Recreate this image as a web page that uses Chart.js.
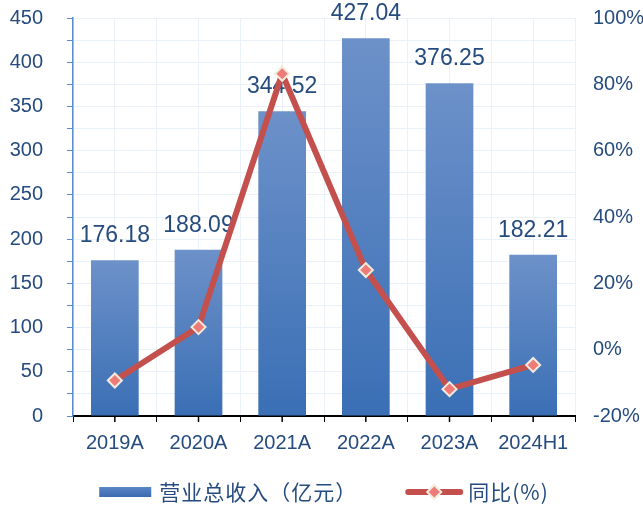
<!DOCTYPE html>
<html>
<head>
<meta charset="utf-8">
<script src="https://cdn.jsdelivr.net/npm/chart.js@4.4.1/dist/chart.umd.min.js"></script>
<style>
  html, body { margin: 0; padding: 0; background: #fff; }
  #wrap { width: 643px; height: 506px; }
</style>
</head>
<body>
<div id="wrap"><canvas id="c" width="643" height="506"></canvas></div>
<script>
// data
var categories = ["2019A", "2020A", "2021A", "2022A", "2023A", "2024H1"];
var revenue = [176.18, 188.09, 344.52, 427.04, 376.25, 182.21];
var growth = [-9.3, 6.8, 83.2, 24.0, -11.9, -4.6];
var revenueLabel = "营业总收入（亿元）";
var growthLabel = "同比(%)";

var textColor = "#264b7e";
var gridColor = "#eaf1f9";
var axisBlue = "#5b8bd0";
var lineRed = "#c4504e";
var cjkFont = "'Noto Sans CJK SC', sans-serif";
var latinFont = "'Liberation Sans', Arial, sans-serif";

function barGradient(context) {
  var chart = context.chart;
  var y = chart.scales && chart.scales.y;
  if (!y || context.dataIndex === undefined || !chart.chartArea) return "#4f7ec0";
  var top = y.getPixelForValue(revenue[context.dataIndex]);
  var base = y.getPixelForValue(0);
  var g = chart.ctx.createLinearGradient(0, top, 0, base);
  g.addColorStop(0, "#6d91c9");
  g.addColorStop(1, "#3a6fb5");
  return g;
}

// value axes: fixed width, and no extra top/bottom padding from the tick labels
function fixWidth(w) {
  return function(s) {
    s.width = w;
    s.paddingTop = 0;
    s.paddingBottom = 0;
  };
}

// value labels above the bars, drawn before the line so the line sits on top
var barLabels = {
  id: "barLabels",
  afterDatasetDraw: function(chart, args) {
    if (args.index !== 0) return;
    var ctx = chart.ctx;
    ctx.save();
    ctx.font = "23px " + latinFont;
    ctx.fillStyle = textColor;
    ctx.textAlign = "center";
    ctx.textBaseline = "alphabetic";
    args.meta.data.forEach(function(bar, i) {
      ctx.fillText(revenue[i].toFixed(2), bar.x, bar.y - 18);
    });
    ctx.restore();
  }
};

// small tick marks at category centres on the x axis
var centerTicks = {
  id: "centerTicks",
  afterDraw: function(chart) {
    var x = chart.scales.x;
    var ctx = chart.ctx;
    ctx.save();
    ctx.strokeStyle = "#000";
    ctx.lineWidth = 1.5;
    for (var i = 0; i < categories.length; i++) {
      var px = x.getPixelForValue(i);
      ctx.beginPath();
      ctx.moveTo(px, chart.chartArea.bottom);
      ctx.lineTo(px, chart.chartArea.bottom + 6);
      ctx.stroke();
    }
    ctx.restore();
  }
};

// legend drawn by hand so the swatches look like the original
var customLegend = {
  id: "customLegend",
  afterDraw: function(chart) {
    var ctx = chart.ctx;
    var area = chart.chartArea;
    var cy = 492;
    ctx.save();
    ctx.font = "21px " + cjkFont;
    ctx.letterSpacing = "1px";
    var w1 = ctx.measureText(revenueLabel).width;
    var w2 = ctx.measureText(growthLabel).width;
    var total = 52 + 8 + w1 + 48 + 58 + 5 + w2;
    var x = (area.left + area.right) / 2 - total / 2;

    var g = ctx.createLinearGradient(0, cy - 5, 0, cy + 5);
    g.addColorStop(0, "#5a86c6");
    g.addColorStop(1, "#3a6ab0");
    ctx.fillStyle = g;
    ctx.fillRect(x, cy - 5, 52, 10);
    x += 60;
    ctx.fillStyle = textColor;
    ctx.textBaseline = "middle";
    ctx.fillText(revenueLabel, x, cy);
    x += w1 + 48;

    ctx.strokeStyle = lineRed;
    ctx.lineWidth = 6;
    ctx.lineCap = "round";
    ctx.beginPath();
    ctx.moveTo(x + 3, cy);
    ctx.lineTo(x + 55, cy);
    ctx.stroke();
    var mx = x + 29;
    ctx.beginPath();
    ctx.moveTo(mx, cy - 7);
    ctx.lineTo(mx + 7, cy);
    ctx.lineTo(mx, cy + 7);
    ctx.lineTo(mx - 7, cy);
    ctx.closePath();
    ctx.fillStyle = "#ee7b78";
    ctx.fill();
    ctx.strokeStyle = "#f2ecdf";
    ctx.lineWidth = 2;
    ctx.stroke();
    x += 63;
    ctx.fillStyle = textColor;
    ctx.fillText(growthLabel, x, cy);
    ctx.restore();
  }
};

var ctx = document.getElementById("c").getContext("2d");
var chart = new Chart(ctx, {
  type: "bar",
  data: {
    labels: categories,
    datasets: [{
      type: "bar",
      label: revenueLabel,
      data: revenue,
      yAxisID: "y",
      backgroundColor: barGradient,
      categoryPercentage: 0.57,
      barPercentage: 1,
      order: 2
    }, {
      type: "line",
      label: growthLabel,
      data: growth,
      yAxisID: "y1",
      borderColor: lineRed,
      borderWidth: 6,
      pointStyle: "rectRot",
      pointRadius: 7,
      pointBorderWidth: 2,
      pointBackgroundColor: "#ee7b78",
      pointBorderColor: "#f2ecdf",
      tension: 0,
      order: 1
    }]
  },
  options: {
    responsive: false,
    animation: false,
    layout: { padding: { top: 18, bottom: 50, left: 0, right: 0 } },
    plugins: {
      legend: { display: false },
      tooltip: { enabled: false }
    },
    scales: {
      x: {
        offset: true,
        grid: { offset: true, color: gridColor, tickColor: "#000", tickLength: 6 },
        border: { color: "#000", width: 2 },
        ticks: { color: textColor, font: { family: latinFont, size: 20 }, padding: 9, maxRotation: 0 },
        afterFit: function(s) { s.height = 40; }
      },
      xc: {
        type: "category",
        labels: categories,
        position: "bottom",
        offset: true,
        grid: { offset: false, color: gridColor, drawTicks: false },
        border: { display: false },
        ticks: { display: false }
      },
      y: {
        position: "left",
        min: 0,
        max: 450,
        ticks: {
          stepSize: 25,
          autoSkip: false,
          color: textColor,
          font: { family: latinFont, size: 20 },
          padding: 24,
          callback: function(v) { return v % 50 === 0 ? v : ""; }
        },
        grid: { color: gridColor, tickColor: axisBlue, tickLength: 6 },
        border: { color: axisBlue, width: 1.5 },
        afterFit: fixWidth(73)
      },
      y1: {
        position: "right",
        min: -20,
        max: 100,
        ticks: {
          stepSize: 20,
          color: textColor,
          font: { family: latinFont, size: 20 },
          padding: 18,
          callback: function(v) { return v + "%"; }
        },
        grid: { display: false, drawTicks: false },
        border: { display: false },
        afterFit: fixWidth(68)
      }
    }
  },
  plugins: [barLabels, centerTicks, customLegend]
});
</script>
</body>
</html>
